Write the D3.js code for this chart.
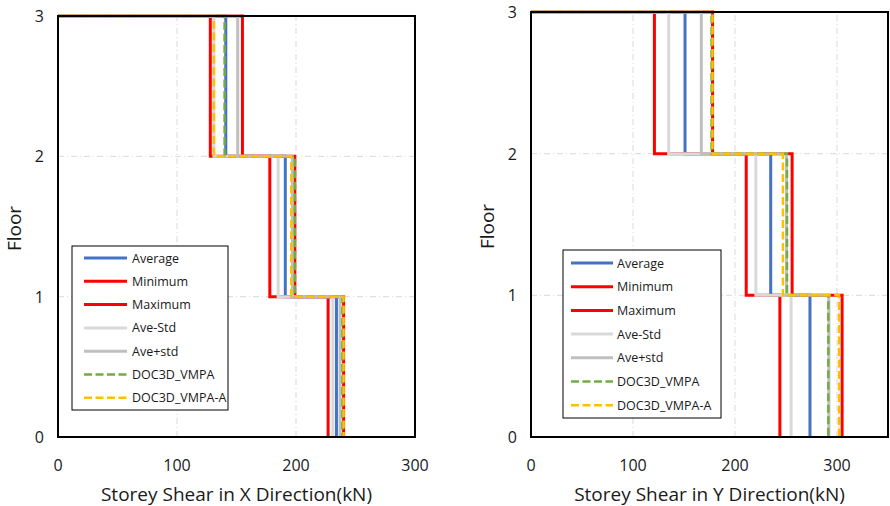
<!DOCTYPE html>
<html><head><meta charset="utf-8">
<script src="https://cdn.jsdelivr.net/npm/d3@7/dist/d3.min.js"></script>
<style>
body{margin:0;background:#fff;}
text{font-family:"Open Sans","Noto Sans",sans-serif;fill:#1a1a1a;}
</style></head>
<body><svg id="c" width="890" height="506"></svg>
<script>
// Series names (legend order)
const seriesNames = ["Average","Minimum","Maximum","Ave-Std","Ave+std","DOC3D_VMPA","DOC3D_VMPA-A"];
// Floor tick labels
const floorTicks = [0,1,2,3];
const xTicksLeft = [0,100,200,300];
const xTicksRight = [0,100,200,300];
// Storey shear values, storeys 1,2,3 (bottom to top) — X direction
const xAverage = [234,191,141];
const xMinimum = [227,178,128];
const xMaximum = [240,199,155];
const xAveMinusStd = [231,185,131];
const xAvePlusStd = [237,197,151];
const xDOC3D_VMPA = [239,199,140];
const xDOC3D_VMPA_A = [240,196,131];
// Y direction
const yAverage = [273.5,235,151];
const yMinimum = [244,211,121];
const yMaximum = [305,256,178];
const yAveMinusStd = [255,220.5,135];
const yAvePlusStd = [292,250.5,167];
const yDOC3D_VMPA = [291.5,251,177];
const yDOC3D_VMPA_A = [302,247,178];

const styles = [
  {color:"#4472C4", dash:null, w:3},
  {color:"#FF0000", dash:null, w:3},
  {color:"#FF0000", dash:null, w:3},
  {color:"#D9D9D9", dash:null, w:3},
  {color:"#BFBFBF", dash:null, w:3},
  {color:"#70AD47", dash:"8,3.5", w:2.5},
  {color:"#FFC000", dash:"8,3.5", w:2.5}
];

const svg = d3.select("#c");

function panel(cfg){
  const g = svg.append("g");
  const x = d3.scaleLinear().domain([0,cfg.xmax]).range([cfg.x0,cfg.x1]);
  const y = d3.scaleLinear().domain([0,3]).range([cfg.y0,cfg.y1]);
  // gridlines
  g.selectAll(".gx").data(cfg.xticks.filter(d=>d>0 && d<cfg.xmax)).enter().append("line")
    .attr("x1",d=>x(d)).attr("x2",d=>x(d)).attr("y1",y(0)).attr("y2",y(3))
    .attr("stroke","#D9D9D9").attr("stroke-width",1).attr("stroke-dasharray","6,3,1,3");
  g.selectAll(".gy").data(floorTicks.filter(d=>d>0&&d<3)).enter().append("line")
    .attr("x1",x(0)).attr("x2",x(cfg.xmax)).attr("y1",d=>y(d)).attr("y2",d=>y(d))
    .attr("stroke","#D9D9D9").attr("stroke-width",1).attr("stroke-dasharray","6,3,1,3");
  // series
  const line = d3.line().x(d=>x(d[0])).y(d=>y(d[1]));
  cfg.series.forEach((vals,i)=>{
    const pts=[[0,3]];
    for(let s=3;s>=1;s--){pts.push([vals[s-1],s]);pts.push([vals[s-1],s-1]);}
    const st=styles[i];
    g.append("path").attr("d",line(pts)).attr("fill","none")
      .attr("stroke",st.color).attr("stroke-width",st.w)
      .attr("stroke-dasharray",st.dash);
  });
  // frame
  g.append("rect").attr("x",x(0)).attr("y",y(3)).attr("width",x(cfg.xmax)-x(0)).attr("height",y(0)-y(3))
    .attr("fill","none").attr("stroke","#000").attr("stroke-width",2);
  // tick labels
  g.selectAll(".tx").data(cfg.xticks).enter().append("text")
    .attr("x",d=>x(d)).attr("y",cfg.y0+34).attr("text-anchor","middle")
    .attr("font-size",16).text(d=>d);
  g.selectAll(".ty").data(floorTicks).enter().append("text")
    .attr("x",cfg.x0-14).attr("y",d=>y(d)+6).attr("text-anchor","end")
    .attr("font-size",16).text(d=>d);
  // axis titles
  g.append("text").attr("x",(cfg.x0+cfg.x1)/2 + cfg.titleDx).attr("y",cfg.y0+64).attr("text-anchor","middle")
    .attr("font-size",19).text(cfg.xtitle);
  g.append("text").attr("transform",`translate(${cfg.floorX},${(cfg.y0+cfg.y1)/2+2}) rotate(-90)`)
    .attr("text-anchor","middle").attr("font-size",19).text("Floor");
  // legend
  const L=cfg.legend;
  g.append("rect").attr("x",L.x).attr("y",L.y).attr("width",L.w).attr("height",L.h)
    .attr("fill","#fff").attr("stroke","#000").attr("stroke-width",1);
  seriesNames.forEach((n,i)=>{
    const yy=L.y+L.first+i*L.step;
    const st=styles[i];
    g.append("line").attr("x1",L.x+L.lx0).attr("x2",L.x+L.lx1).attr("y1",yy).attr("y2",yy)
      .attr("stroke",st.color).attr("stroke-width",st.w).attr("stroke-dasharray",st.dash);
    g.append("text").attr("x",L.x+L.tx).attr("y",yy+4.5).attr("font-size",12.5).text(n);
  });
}

panel({x0:58,x1:415,y0:437,y1:16,xmax:300,xticks:xTicksLeft,
  series:[xAverage,xMinimum,xMaximum,xAveMinusStd,xAvePlusStd,xDOC3D_VMPA,xDOC3D_VMPA_A],
  xtitle:"Storey Shear in X Direction(kN)",titleDx:0,floorX:21,
  legend:{x:72,y:246,w:156,h:164,first:12,step:23.3,lx0:12,lx1:55,tx:60}});
panel({x0:531,x1:888,y0:437,y1:12,xmax:350,xticks:xTicksRight,
  series:[yAverage,yMinimum,yMaximum,yAveMinusStd,yAvePlusStd,yDOC3D_VMPA,yDOC3D_VMPA_A],
  xtitle:"Storey Shear in Y Direction(kN)",titleDx:0,floorX:494,
  legend:{x:563,y:250,w:158,h:168,first:13,step:23.7,lx0:8,lx1:50,tx:54}});
</script></body></html>
